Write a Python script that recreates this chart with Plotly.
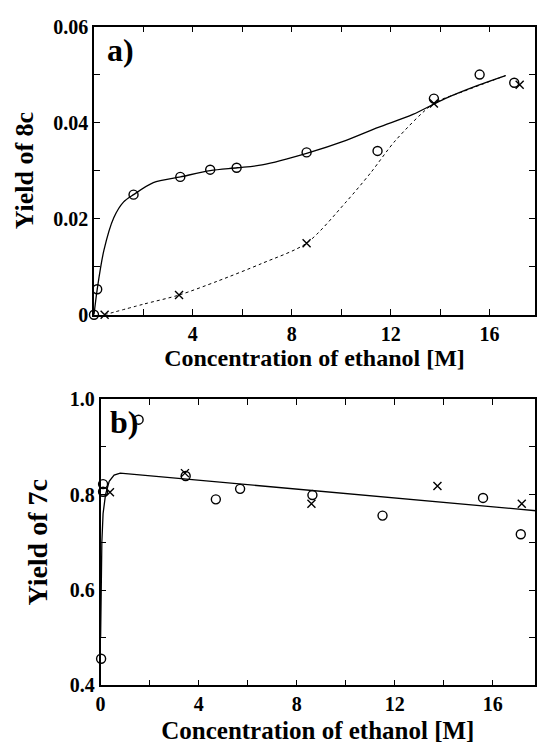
import plotly.graph_objects as go

# ---------------- data: panel a (yield of 8c) ----------------
a_circ_x = [0.0, 0.13, 1.6, 3.49, 4.7, 5.77, 8.6, 11.47, 13.75, 15.6, 17.0]
a_circ_y = [0.0, 0.0053, 0.0250, 0.0287, 0.0302, 0.0306, 0.0338, 0.0341, 0.0450, 0.0500, 0.0483]
a_cross_x = [0.43, 3.44, 8.6, 13.75, 17.22]
a_cross_y = [0.0, 0.0041, 0.0149, 0.0440, 0.0479]
a_fit_x = [0.0, 0.13, 0.4, 0.8, 1.2, 1.6, 2.4, 3.5, 4.7, 5.8, 6.8, 8.6, 10.2, 11.5, 12.9, 14.2, 15.5, 16.65]
a_fit_y = [0.0, 0.0053, 0.0134, 0.0202, 0.0235, 0.0250, 0.0275, 0.0287, 0.0300, 0.0306, 0.0312, 0.0336, 0.0363, 0.0390, 0.0417, 0.0450, 0.0477, 0.0498]
a_dot_x = [0.43, 2.0, 3.44, 5.0, 6.8, 8.6, 10.2, 11.2, 12.2, 13.75, 14.9, 16.65]
a_dot_y = [0.0, 0.0022, 0.0041, 0.0070, 0.0107, 0.0149, 0.0235, 0.0296, 0.0363, 0.0440, 0.0464, 0.0498]

# ---------------- data: panel b (yield of 7c) ----------------
b_circ_x = [0.02, 0.1, 0.1, 1.55, 3.47, 4.7, 5.69, 8.64, 11.5, 15.6, 17.14]
b_circ_y = [0.456, 0.822, 0.806, 0.957, 0.839, 0.790, 0.812, 0.799, 0.756, 0.793, 0.717]
b_cross_x = [0.38, 3.44, 8.6, 13.74, 17.18]
b_cross_y = [0.805, 0.845, 0.781, 0.818, 0.781]
b_fit_x = [0.0, 0.02, 0.05, 0.1, 0.2, 0.35, 0.55, 0.8, 17.8]
b_fit_y = [0.50, 0.60, 0.70, 0.76, 0.80, 0.828, 0.841, 0.845, 0.766]

a_yticks = [0, 0.02, 0.04, 0.06]
a_yticktext = ["0", "0.02", "0.04", "0.06"]
a_xticks = [4, 8, 12, 16]
b_xticks = [0, 4, 8, 12, 16]
b_yticks = [0.4, 0.6, 0.8, 1.0]
b_yticktext = ["0.4", "0.6", "0.8", "1.0"]

W, H = 537, 744
FONT = "Liberation Serif"

def px_x(p):
    return p / W

def px_y(p):
    return 1 - p / H

fig = go.Figure()

# panel a
fig.add_trace(go.Scatter(x=a_fit_x, y=a_fit_y, mode="lines", line=dict(color="black", width=1.3, shape="spline", smoothing=0.8),
                         xaxis="x", yaxis="y", showlegend=False, hoverinfo="skip"))
fig.add_trace(go.Scatter(x=a_dot_x, y=a_dot_y, mode="lines", line=dict(color="black", width=1.0, dash="dot", shape="spline", smoothing=0.8),
                         xaxis="x", yaxis="y", showlegend=False, hoverinfo="skip"))
fig.add_trace(go.Scatter(x=a_circ_x, y=a_circ_y, mode="markers", cliponaxis=False,
                         marker=dict(symbol="circle-open", size=9, color="black", line=dict(width=1.4)),
                         xaxis="x", yaxis="y", showlegend=False))
fig.add_trace(go.Scatter(x=a_cross_x, y=a_cross_y, mode="markers", cliponaxis=False,
                         marker=dict(symbol="x-thin-open", size=8, color="black", line=dict(width=1.4)),
                         xaxis="x", yaxis="y", showlegend=False))

# panel b
fig.add_trace(go.Scatter(x=b_fit_x, y=b_fit_y, mode="lines", line=dict(color="black", width=1.3),
                         xaxis="x2", yaxis="y2", showlegend=False, hoverinfo="skip"))
fig.add_trace(go.Scatter(x=b_circ_x, y=b_circ_y, mode="markers", cliponaxis=False,
                         marker=dict(symbol="circle-open", size=9, color="black", line=dict(width=1.4)),
                         xaxis="x2", yaxis="y2", showlegend=False))
fig.add_trace(go.Scatter(x=b_cross_x, y=b_cross_y, mode="markers", cliponaxis=False,
                         marker=dict(symbol="x-thin-open", size=8, color="black", line=dict(width=1.4)),
                         xaxis="x2", yaxis="y2", showlegend=False))

tickfont = dict(family=FONT, size=20, color="black", weight="bold")
common = dict(showline=True, linecolor="black", linewidth=1.6, mirror="ticks", ticks="inside",
              ticklen=6, tickwidth=1.2, tickcolor="black", showgrid=False, zeroline=False,
              tickfont=tickfont)

def tfont(size, weight):
    return dict(family=FONT, size=size, color="black", weight=weight)

def minor(dt):
    return dict(dtick=dt, tick0=0, ticks="inside", ticklen=6, tickcolor="black", tickwidth=1.2)

fig.update_layout(
    width=W, height=H,
    margin=dict(l=0, r=0, t=0, b=0),
    paper_bgcolor="white", plot_bgcolor="white",
    xaxis=dict(domain=[px_x(90), px_x(536)], range=[0, 17.84], anchor="y",
               tickvals=a_xticks, minor=minor(2),
               title=dict(text="Concentration of ethanol [M]", font=tfont(24, "bold"), standoff=0), **common),
    yaxis=dict(domain=[px_y(313), px_y(16)], range=[0, 0.06], anchor="x",
               tickvals=a_yticks, ticktext=a_yticktext, minor=minor(0.01),
               title=dict(text="Yield of 8c", font=tfont(26, "bold"), standoff=12), **common),
    xaxis2=dict(domain=[px_x(96.7), px_x(536)], range=[0, 17.72], anchor="y2",
                tickvals=b_xticks, minor=minor(2),
                title=dict(text="Concentration of ethanol [M]", font=tfont(25, "bold"), standoff=8), **common),
    yaxis2=dict(domain=[px_y(695), px_y(400)], range=[0.4, 1.0], anchor="x2",
                tickvals=b_yticks, ticktext=b_yticktext, minor=minor(0.1),
                title=dict(text="Yield of 7c", font=tfont(28, "bold"), standoff=14), **common),
    annotations=[
        dict(text="a)", x=1.08, y=0.0552, xref="x", yref="y", xanchor="center", yanchor="middle",
             showarrow=False, font=dict(family=FONT, size=32, color="black", weight="bold")),
        dict(text="b)", x=0.94, y=0.953, xref="x2", yref="y2", xanchor="center", yanchor="middle",
             showarrow=False, font=dict(family=FONT, size=32, color="black", weight="bold")),
    ],
)

fig.write_html("out.html")
